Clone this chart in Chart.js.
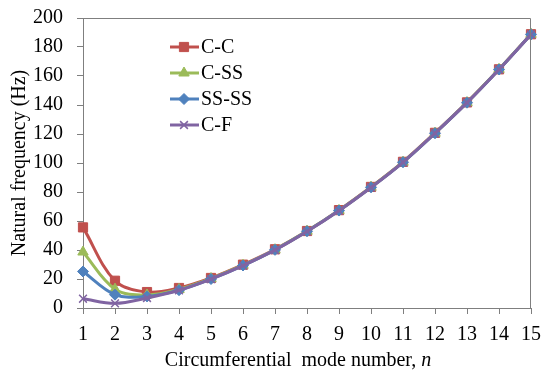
<!DOCTYPE html>
<html>
<head>
<meta charset="utf-8">
<script src="https://cdn.jsdelivr.net/npm/chart.js@4"></script>
<style>
  html, body { margin: 0; padding: 0; background: #fff; }
  #wrap { width: 541px; height: 372px; }
</style>
</head>
<body>
<div id="wrap"><canvas id="c"></canvas></div>
<script>
const modes = [1, 2, 3, 4, 5, 6, 7, 8, 9, 10, 11, 12, 13, 14, 15];
const seriesNames = ["C-C", "C-SS", "SS-SS", "C-F"];
const ccValues = [55.6, 18.8, 11, 13.8, 20.7, 29.9, 40.5, 53.1, 67.5, 83.5, 100.8, 120.8, 141.8, 164.6, 188.8];
const cssValues = [38.6, 13, 9, 12.8, 20.3, 29.5, 40.2, 53, 67.3, 83.3, 100.6, 120.6, 141.7, 164.6, 188.8];
const ssssValues = [25.2, 9.2, 8, 12.3, 20, 29.3, 40.1, 52.9, 67.2, 83.2, 100.5, 120.5, 141.6, 164.5, 188.7];
const cfValues = [6.4, 3.2, 6.9, 12.2, 19.9, 29.2, 40, 52.8, 67.1, 83.1, 100.5, 120.5, 141.6, 164.5, 188.7];
const yTicks = [0, 20, 40, 60, 80, 100, 120, 140, 160, 180, 200];
const xTitle = "Circumferential  mode number, ";
const xTitleVar = "n";
const yTitle = "Natural frequency (Hz)";

const colors = ["#C0504D", "#9BBB59", "#4F81BD", "#8064A2"];
const markers = ["rect", "triangle", "rectRot", "crossRot"];
const radii = [6.5, 6, 5.5, 5.5];
const allValues = [ccValues, cssValues, ssssValues, cfValues];

const font = "'Liberation Serif', 'Times New Roman', serif";

const datasets = seriesNames.map((name, i) => ({
  label: name,
  data: modes.map((m, j) => ({ x: m, y: allValues[i][j] })),
  borderColor: colors[i],
  backgroundColor: colors[i],
  borderWidth: 3,
  pointStyle: markers[i],
  pointRadius: radii[i],
  pointBorderWidth: markers[i] === "crossRot" ? 1.5 : 1,
  pointBorderColor: colors[i],
  pointBackgroundColor: colors[i],
  tension: 0.35,
  fill: false,
  clip: false,
  order: 4 - i
}));

// box around plot, x title with italic n, legend with line through marker
const boxAndLegend = {
  id: "boxAndLegend",
  afterDraw(chart) {
    const ctx = chart.ctx;
    const a = chart.chartArea;
    ctx.save();
    ctx.strokeStyle = "#7f7f7f";
    ctx.lineWidth = 1;
    ctx.beginPath();
    ctx.moveTo(a.left, a.top + 0.5);
    ctx.lineTo(a.right - 0.5, a.top + 0.5);
    ctx.lineTo(a.right - 0.5, a.bottom);
    ctx.stroke();

    // x axis title
    ctx.fillStyle = "#000";
    ctx.textBaseline = "middle";
    ctx.font = "20px " + font;
    const w1 = ctx.measureText(xTitle).width;
    ctx.font = "italic 20px " + font;
    const w2 = ctx.measureText(xTitleVar).width;
    const tx = 298 - (w1 + w2) / 2;
    ctx.font = "20px " + font;
    ctx.fillText(xTitle, tx, 361);
    ctx.font = "italic 20px " + font;
    ctx.fillText(xTitleVar, tx + w1, 361);

    const x0 = 170, y0 = 47, gap = 26;
    chart.data.datasets.forEach((ds, i) => {
      const y = y0 + i * gap;
      ctx.strokeStyle = ds.borderColor;
      ctx.lineWidth = 3;
      ctx.beginPath();
      ctx.moveTo(x0, y);
      ctx.lineTo(x0 + 29, y);
      ctx.stroke();
      ctx.fillStyle = ds.backgroundColor;
      ctx.strokeStyle = ds.borderColor;
      ctx.lineWidth = ds.pointBorderWidth;
      Chart.helpers.drawPoint(ctx, { pointStyle: ds.pointStyle, radius: ds.pointRadius, borderWidth: ds.pointBorderWidth }, x0 + 14, y);
      ctx.fillStyle = "#000";
      ctx.font = "20px " + font;
      ctx.textBaseline = "middle";
      ctx.fillText(ds.label, x0 + 31, y + 1);
    });
    ctx.restore();
  }
};

new Chart(document.getElementById("c"), {
  type: "line",
  data: { datasets: datasets },
  options: {
    responsive: true,
    maintainAspectRatio: false,
    animation: false,
    layout: { padding: { top: 18, right: 10, left: 0, bottom: 0 } },
    plugins: {
      legend: { display: false },
      tooltip: { enabled: false }
    },
    scales: {
      x: {
        type: "linear",
        min: 1,
        max: 15,
        afterBuildTicks: (scale) => { scale.ticks = modes.map((v) => ({ value: v })); },
        afterFit: (scale) => {
          scale.height = 64;
          scale.paddingLeft = 0;
          scale.paddingRight = 0;
        },
        border: { color: "#7f7f7f", width: 1 },
        grid: { drawOnChartArea: false, tickLength: 6, color: "#7f7f7f" },
        ticks: { color: "#000", font: { family: font, size: 20 }, padding: 9, maxRotation: 0, autoSkip: false }
      },
      y: {
        min: 0,
        max: 200,
        afterBuildTicks: (scale) => { scale.ticks = yTicks.map((v) => ({ value: v })); },
        afterFit: (scale) => {
          scale.width = 83;
          scale.paddingTop = 0;
          scale.paddingBottom = 0;
        },
        border: { color: "#7f7f7f", width: 1 },
        grid: { drawOnChartArea: false, tickLength: 6, color: "#7f7f7f" },
        ticks: { color: "#000", font: { family: font, size: 20 }, padding: 14 },
        title: {
          display: true,
          text: yTitle,
          color: "#000",
          font: { family: font, size: 20 },
          padding: { top: 8, bottom: 0 }
        }
      }
    }
  },
  plugins: [boxAndLegend]
});
</script>
</body>
</html>
